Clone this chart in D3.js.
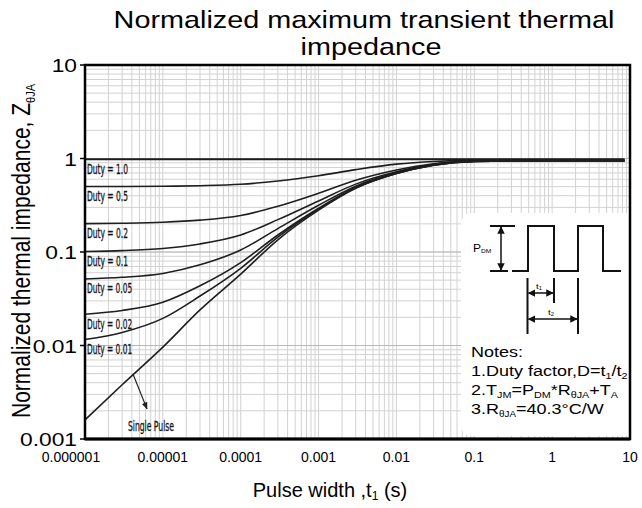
<!DOCTYPE html>
<html>
<head>
<meta charset="utf-8">
<script src="https://cdn.jsdelivr.net/npm/d3@7"></script>
<style>
  html, body { margin: 0; padding: 0; background: #fff; }
  svg { display: block; }
  text { font-family: "Liberation Sans", Arial, sans-serif; fill: #000; }
  .duty { font-family: "Liberation Sans Narrow", "DejaVu Sans Condensed", sans-serif; fill: #111; stroke: #222; stroke-width: 0.3; }
</style>
</head>
<body>
<script>
// pulse widths (s) at which the curves were read
const pulseWidths = [1e-6, 3e-6, 1e-5, 3e-5, 1e-4, 3e-4, 1e-3, 3e-3, 1e-2, 3e-2, 0.1, 1, 8.5]

// normalized Z per duty factor
const duty10 = [0.98, 0.98, 0.98, 0.98, 0.98, 0.98, 0.98, 0.98, 0.98, 0.98, 0.98, 0.98, 0.98]
const duty05 = [0.501, 0.502, 0.505, 0.512, 0.53, 0.575, 0.655, 0.76, 0.87, 0.93, 0.955, 0.96, 0.96]
const duty02 = [0.201, 0.203, 0.208, 0.219, 0.246, 0.308, 0.424, 0.584, 0.752, 0.88, 0.944, 0.95, 0.95]
const duty01 = [0.1014, 0.1034, 0.109, 0.122, 0.152, 0.222, 0.352, 0.532, 0.721, 0.865, 0.937, 0.95, 0.95]
const duty005 = [0.0515, 0.0536, 0.059, 0.073, 0.105, 0.178, 0.316, 0.506, 0.706, 0.858, 0.934, 0.95, 0.95]
const duty002 = [0.0216, 0.0237, 0.029, 0.0435, 0.077, 0.152, 0.294, 0.49, 0.696, 0.853, 0.93, 0.95, 0.95]
const duty001 = [0.0116, 0.0138, 0.0195, 0.0338, 0.067, 0.144, 0.287, 0.485, 0.693, 0.85, 0.93, 0.95, 0.95]
const singlePulse = [0.0016, 0.0038, 0.0096, 0.024, 0.058, 0.135, 0.28, 0.48, 0.69, 0.85, 0.93, 0.95, 0.95]

const dutyLabels = ['Duty = 1.0', 'Duty = 0.5', 'Duty = 0.2', 'Duty = 0.1', 'Duty = 0.05', 'Duty = 0.02', 'Duty = 0.01']
const dutySeries = [duty10, duty05, duty02, duty01, duty005, duty002, duty001]

const xTicks = [1e-6, 1e-5, 1e-4, 1e-3, 1e-2, 1e-1, 1, 10]
const xTickLabels = ['0.000001', '0.00001', '0.0001', '0.001', '0.01', '0.1', '1', '10']
const yTicks = [0.001, 0.01, 0.1, 1, 10]
const yTickLabels = ['0.001', '0.01', '0.1', '1', '10']

// single pulse annotation (data coords)
const arrowFrom = [4.13e-6, 0.00496]
const arrowTo = [6.25e-6, 0.0021]
const singleLabelAt = [3.56e-6, 0.00122]

const W = 642, H = 508
const pL = 85, pR = 630, pT = 65, pB = 439
const SX = 1.2 // the picture's text is stretched sideways

const svg = d3.select('body').append('svg').attr('width', W).attr('height', H)

const x = d3.scaleLog().domain([1e-6, 10]).range([pL, pR])
const y = d3.scaleLog().domain([0.001, 10]).range([pB, pT])

// text helper: parts are strings or {s, k, dy} subscripts
function sText (parent, px, py, parts, size, anchor, sx) {
  const g = parent.append('g')
    .attr('transform', `translate(${px},${py}) scale(${sx || SX},1)`)
  const t = g.append('text').attr('font-size', size).attr('text-anchor', anchor || 'start')
  let back = 0
  parts.forEach(p => {
    if (typeof p === 'string') {
      const sp = t.append('tspan').text(p)
      if (back) sp.attr('dy', -back)
      back = 0
    } else {
      t.append('tspan').attr('font-size', size * p.k).attr('dy', p.dy - back).text(p.s)
      back = p.dy
    }
  })
  return t
}

// grid
const minor = []
for (let e = -6; e < 1; e++) for (let k = 1; k <= 9; k++) minor.push(k * Math.pow(10, e))
minor.push(10)
const minorY = []
for (let e = -3; e < 1; e++) for (let k = 1; k <= 9; k++) minorY.push(k * Math.pow(10, e))
minorY.push(10)

const grid = svg.append('g')
grid.selectAll('line.vx').data(minor).join('line')
  .attr('x1', d => x(d)).attr('x2', d => x(d))
  .attr('y1', pT).attr('y2', pB)
  .attr('stroke', '#d2d2d2').attr('stroke-width', 1)
grid.selectAll('line.hy').data(minorY).join('line')
  .attr('x1', pL).attr('x2', pR)
  .attr('y1', d => y(d)).attr('y2', d => y(d))
  .attr('stroke', '#d2d2d2').attr('stroke-width', 1)
grid.selectAll('line.mj').data(yTicks).join('line')
  .attr('x1', pL).attr('x2', pR)
  .attr('y1', d => y(d)).attr('y2', d => y(d))
  .attr('stroke', '#b8b8b8').attr('stroke-width', 1)

// inset box
const ix = 461, iy = 213
svg.append('rect').attr('x', ix).attr('y', iy).attr('width', pR - ix + 10).attr('height', 223)
  .attr('rx', 10).attr('fill', '#fff')

// curves
const line = d3.line().x(d => x(d[0])).y(d => y(d[1])).curve(d3.curveMonotoneX)
const curves = svg.append('g').attr('fill', 'none').attr('stroke', '#1e1e1e')
dutySeries.concat([singlePulse]).forEach((vals, i) => {
  curves.append('path')
    .attr('d', line(pulseWidths.map((t, j) => [t, vals[j]])))
    .attr('stroke-width', i === 0 ? 2 : 1.6)
})

// duty labels
svg.selectAll('text.duty').data(dutyLabels).join('text')
  .attr('class', 'duty')
  .attr('x', pL + 2)
  .attr('y', (d, i) => y(dutySeries[i][0]) + 14.5)
  .attr('font-size', 13.5)
  .attr('textLength', d => d.length * 4.1)
  .attr('lengthAdjust', 'spacingAndGlyphs')
  .text(d => d)

// arrow heads
const defs = svg.append('defs')
defs.append('marker')
  .attr('id', 'ah').attr('viewBox', '0 0 10 10').attr('refX', 9).attr('refY', 5)
  .attr('markerWidth', 6).attr('markerHeight', 6).attr('orient', 'auto')
  .append('path').attr('d', 'M0,1L10,5L0,9z').attr('fill', '#222')
defs.append('marker')
  .attr('id', 'ah2').attr('viewBox', '0 0 10 10').attr('refX', 9).attr('refY', 5)
  .attr('markerWidth', 5).attr('markerHeight', 5).attr('orient', 'auto-start-reverse')
  .append('path').attr('d', 'M0,0L10,5L0,10z').attr('fill', '#111')

// single pulse arrow
svg.append('line')
  .attr('x1', x(arrowFrom[0])).attr('y1', y(arrowFrom[1]))
  .attr('x2', x(arrowTo[0])).attr('y2', y(arrowTo[1]))
  .attr('stroke', '#222').attr('stroke-width', 1.2).attr('marker-end', 'url(#ah)')
svg.append('text').attr('class', 'duty')
  .attr('x', x(singleLabelAt[0])).attr('y', y(singleLabelAt[1]))
  .attr('font-size', 13.5).attr('textLength', 46).attr('lengthAdjust', 'spacingAndGlyphs')
  .text('Single Pulse')

// inset drawing
const ins = svg.append('g').attr('stroke', '#111').attr('stroke-width', 2).attr('fill', 'none')
ins.append('path').attr('d', 'M512,271H528V226H554V271H578V226H603V271H621')
ins.append('path').attr('d', 'M490,226H515M490,271H508')
ins.append('path').attr('d', 'M527.5,278V334M554,278V303M578,278V334')
const dbl = (x1, y1, x2, y2) => ins.append('line').attr('x1', x1).attr('y1', y1).attr('x2', x2).attr('y2', y2)
  .attr('stroke-width', 1.5).attr('marker-start', 'url(#ah2)').attr('marker-end', 'url(#ah2)')
dbl(501, 227, 501, 270)
dbl(528.5, 293, 553, 293)
dbl(528.5, 319, 577, 319)
sText(svg, 473, 252, ['P', { s: 'DM', k: 0.55, dy: 1 }], 10, 'start')
sText(svg, 539, 289, ['t', { s: '1', k: 0.6, dy: 1 }], 8, 'middle')
sText(svg, 551, 315, ['t', { s: '2', k: 0.6, dy: 1 }], 8, 'middle')

// notes
sText(svg, 471, 357, ['Notes:'], 15)
sText(svg, 471, 376, ['1.Duty factor,D=t', { s: '1', k: 0.6, dy: 3 }, '/t', { s: '2', k: 0.6, dy: 3 }], 15)
sText(svg, 471, 395, ['2.T', { s: 'JM', k: 0.6, dy: 3 }, '=P', { s: 'DM', k: 0.6, dy: 3 }, '*R', { s: '\u03b8JA', k: 0.6, dy: 3 }, '+T', { s: 'A', k: 0.6, dy: 3 }], 15)
sText(svg, 471, 414, ['3.R', { s: '\u03b8JA', k: 0.55, dy: 3 }, '=40.3\u00b0C/W'], 15)

// frame
svg.append('rect').attr('x', pL).attr('y', pT).attr('width', pR - pL).attr('height', pB - pT)
  .attr('fill', 'none').attr('stroke', '#000').attr('stroke-width', 2.5)
svg.append('line').attr('x1', pL).attr('x2', pR).attr('y1', pB).attr('y2', pB)
  .attr('stroke', '#000').attr('stroke-width', 3)

// left ticks + labels
svg.selectAll('line.yt').data(yTicks).join('line')
  .attr('x1', pL - 5).attr('x2', pL).attr('y1', d => y(d)).attr('y2', d => y(d))
  .attr('stroke', '#000').attr('stroke-width', 1.5)
yTicks.forEach((v, i) => sText(svg, 77, y(v) + 7, [yTickLabels[i]], 19, 'end'))

// bottom labels
xTicks.forEach((v, i) => {
  svg.append('text').attr('x', x(v) + (i === 0 ? -14 : 0)).attr('y', 462)
    .attr('font-size', 14).attr('text-anchor', 'middle').text(xTickLabels[i])
})

// titles
sText(svg, 364, 28, ['Normalized maximum transient thermal'], 24, 'middle')
sText(svg, 371, 55, ['impedance'], 24, 'middle')
sText(svg, 330, 497, ['Pulse width ,t', { s: '1', k: 0.6, dy: 3 }, ' (s)'], 20, 'middle', 1)

// y title, rotated; glyph height gets the sideways stretch
const yt = svg.append('g').attr('transform', `translate(30,${(418 + 84) / 2}) scale(${SX},1) rotate(-90)`)
const ytt = yt.append('text').attr('font-size', 21).attr('text-anchor', 'middle')
ytt.append('tspan').text('Normalized thermal impedance, Z')
ytt.append('tspan').attr('font-size', 11).attr('dy', 4).text('\u03b8JA')
</script>
</body>
</html>
